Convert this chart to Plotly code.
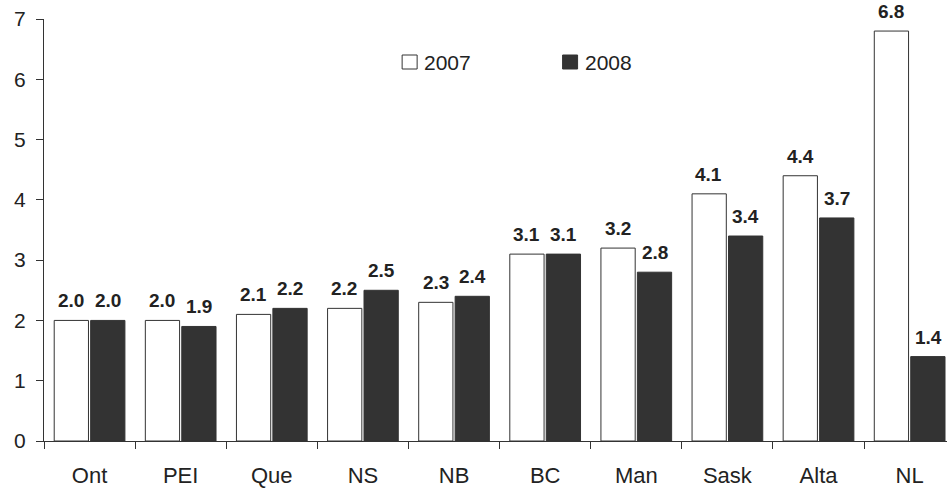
import plotly.graph_objects as go

provinces = ["Ont", "PEI", "Que", "NS", "NB", "BC", "Man", "Sask", "Alta", "NL"]
rate_2007 = [2.0, 2.0, 2.1, 2.2, 2.3, 3.1, 3.2, 4.1, 4.4, 6.8]
rate_2008 = [2.0, 1.9, 2.2, 2.5, 2.4, 3.1, 2.8, 3.4, 3.7, 1.4]
series_names = ["2007", "2008"]

font_family = "Liberation Sans, Arial, sans-serif"
text_color = "#222222"
dark = "#333333"
fills = ["white", dark]

fig = go.Figure()
for name, values, fill in zip(series_names, [rate_2007, rate_2008], fills):
    fig.add_trace(go.Bar(
        x=provinces, y=values, name=name,
        marker=dict(color=fill, line=dict(color=dark, width=1)),
        showlegend=False,
    ))

# value labels above each bar, shifted to the centre of its half of the group
bar_shift = 18.5
for values, sign in zip([rate_2007, rate_2008], [-1, 1]):
    for cat, v in zip(provinces, values):
        fig.add_annotation(
            x=cat, y=v, text=f"<b>{v:.1f}</b>", showarrow=False,
            xanchor="center", yanchor="bottom", xshift=sign * bar_shift, yshift=7,
            font=dict(family=font_family, size=19, color=text_color),
        )

# legend: square swatches with year labels
legend_items = [(0.3966, fills[0]), (0.5743, fills[1])]
for (x0, fill), name in zip(legend_items, series_names):
    fig.add_shape(
        type="rect", xref="paper", yref="paper",
        x0=x0, x1=x0 + 15 / 903, y0=(441 - 69) / 422, y1=(441 - 55) / 422,
        fillcolor=fill, line=dict(color=dark, width=1),
    )
    fig.add_annotation(
        xref="paper", yref="paper", x=x0 + 20 / 903, y=(441 - 62) / 422,
        text=name, showarrow=False, xanchor="left", yanchor="middle",
        font=dict(family=font_family, size=21, color=text_color),
    )

fig.update_layout(
    width=947, height=490,
    margin=dict(l=44, r=0, t=19, b=49),
    paper_bgcolor="white", plot_bgcolor="white",
    font=dict(family=font_family, size=21, color=text_color),
    barmode="group", bargap=0.2, bargroupgap=0.06,
    showlegend=False,
    xaxis=dict(
        range=[-0.5, 9.41],
        showline=True, linecolor=dark, linewidth=1,
        ticks="outside", tickson="boundaries", ticklen=7, tickcolor=dark,
        showgrid=False, zeroline=False, ticklabelstandoff=15,
        tickfont=dict(size=22),
    ),
    yaxis=dict(
        range=[0, 7], dtick=1, tick0=0,
        showline=True, linecolor=dark, linewidth=1,
        ticks="outside", ticklen=7, tickcolor=dark,
        showgrid=False, zeroline=False, ticklabelstandoff=6,
    ),
)

fig.write_html("out.html")
